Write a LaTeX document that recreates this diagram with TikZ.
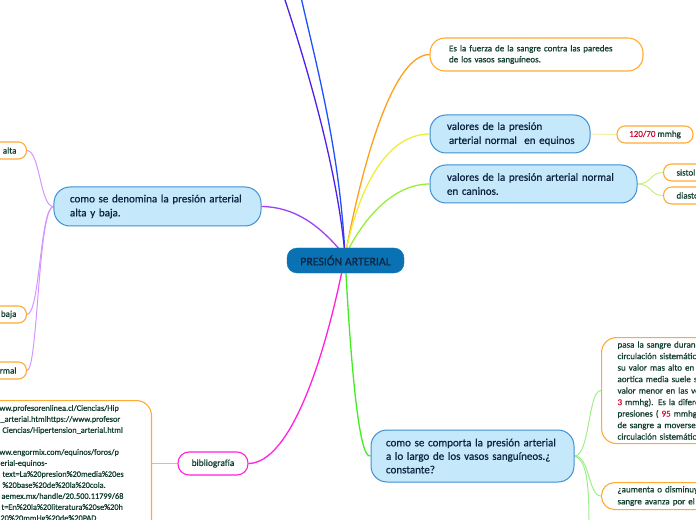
\documentclass[tikz,border=0pt]{standalone}
\usepackage{fontspec}
\setmainfont{Carlito}[FakeBold=0.7]
\usetikzlibrary{backgrounds}
\definecolor{orgB}{HTML}{FFAA33}
\definecolor{blueF}{HTML}{C5E8FA}
\definecolor{blueB}{HTML}{3F8FD5}
\definecolor{cenF}{HTML}{0A72B2}
\definecolor{navy}{HTML}{0E2442}
\definecolor{dgreen}{HTML}{123F30}
\definecolor{redn}{HTML}{D0103A}
\definecolor{cOrange}{HTML}{FF9F1C}
\definecolor{cYellow}{HTML}{EEEE3A}
\definecolor{cLime}{HTML}{99EE33}
\definecolor{cPurple}{HTML}{A040F0}
\definecolor{cMagenta}{HTML}{FF20E0}
\definecolor{cGreen}{HTML}{40EE20}
\definecolor{cBlue}{HTML}{2050FF}
\definecolor{cIndigo}{HTML}{5020E8}
\definecolor{lYellow}{HTML}{F0F0A0}
\definecolor{lLime}{HTML}{C8F080}
\definecolor{lPurple}{HTML}{D495FF}
\definecolor{lMagenta}{HTML}{F5A0F0}
\definecolor{lGreen}{HTML}{9CF08A}
\tikzset{
  smallbox/.style={draw=orgB, line width=1.1bp, fill=white, rounded corners=8bp,
    inner ysep=0bp, text=dgreen, font=\fontsize{9bp}{11bp}\selectfont},
  bluebox/.style={draw=blueB, line width=1bp, fill=blueF, rounded corners=16bp,
    inner ysep=0bp, text=navy, font=\fontsize{11bp}{14bp}\selectfont, align=left},
  mainline/.style={line width=1.3bp},
  childline/.style={line width=1bp}
}
\begin{document}
\begin{tikzpicture}[x=1bp,y=-1bp]
\useasboundingbox (0,0) rectangle (696,520);

% central node
\node[draw=cenF, fill=cenF, rounded corners=10bp, minimum width=117bp, minimum height=25bp,
  text=navy, font=\fontsize{11.8bp}{13bp}\selectfont] (cen) at (345.5,260.5) {PRESIÓN ARTERIAL};
\coordinate (C) at (345,256);

% right side
\node[smallbox, rounded corners=15bp, minimum height=33bp, inner xsep=19bp, text width=175bp, align=left]
  (es) at (536.5,54.5) {Es la fuerza de la sangre contra las paredes\\de los vasos sanguíneos.};
\node[bluebox, minimum height=38bp, inner xsep=17bp, text width=126bp]
  (eq) at (510,134) {valores de la presión\\\mbox{\hspace*{2bp}arterial normal\ \ en equinos}};
\node[smallbox, minimum width=76bp, minimum height=17bp, inner xsep=2bp]
  (v120) at (655,134.5) {\textcolor{redn}{120/70} mmhg};
\node[bluebox, minimum height=38bp, inner xsep=17bp, text width=173bp]
  (can) at (533.5,184) {\mbox{valores de la presión arterial normal}\\en caninos.};
\node[smallbox, anchor=west, minimum height=17bp, inner xsep=13bp, text width=80bp, align=left]
  (sis) at (663,172.5) {sistol};
\node[smallbox, anchor=west, minimum height=17bp, inner xsep=13bp, text width=80bp, align=left]
  (dia) at (663,195.5) {diasto};

% left side
\node[bluebox, minimum height=39bp, inner xsep=16bp, text width=175bp]
  (den) at (157.5,206.5) {\mbox{como se denomina la presión arterial}\\alta y baja.};
\node[smallbox, anchor=east, minimum height=17bp, inner xsep=10bp, text width=60bp, align=right]
  (alta) at (27,150.5) {alta};
\node[smallbox, anchor=east, minimum height=17bp, inner xsep=10bp, text width=60bp, align=right]
  (baja) at (27,314.5) {baja};
\node[smallbox, anchor=east, minimum height=17bp, inner xsep=10bp, text width=60bp, align=right]
  (rmal) at (27,370.5) {rmal};

\node[smallbox, draw=cMagenta, rounded corners=11bp, minimum width=70bp, minimum height=23bp, inner xsep=2bp,
  font=\fontsize{9.4bp}{11bp}\selectfont]
  (bib) at (213,463.5) {bibliografía};
\node[smallbox, rounded corners=15bp, anchor=north east, inner xsep=17bp, inner ysep=4.5bp,
  text width=135bp, align=left, font=\fontsize{8.3bp}{11bp}\selectfont]
  (refs) at (152,400) {ww.profesorenlinea.cl/Ciencias/Hip\\
\hspace*{1bp}\_arterial.htmlhttps://www.profesor\\
\hspace*{3bp}Ciencias/Hipertension\_arterial.html\\
\mbox{}\\
ww.engormix.com/equinos/foros/p\\
\hspace*{1bp}erial-equinos-\\
\hspace*{3bp}text=La\%20presion\%20media\%20es\\
\hspace*{3bp}\%20base\%20de\%20la\%20cola.\\
\hspace*{2bp}aemex.mx/handle/20.500.11799/68\\
\hspace*{2bp}t=En\%20la\%20literatura\%20se\%20h\\
\hspace*{1bp}20\%20mmHg\%20de\%20PAD\\
\mbox{}};

% bottom right
\node[bluebox, minimum height=52bp, inner xsep=15bp, text width=173bp, font=\fontsize{11bp}{13.5bp}\selectfont]
  (comp) at (472.5,456) {\mbox{como se comporta la presión arterial}\\\mbox{a lo largo de los vasos sanguíneos.¿}\\constante?};
\node[smallbox, rounded corners=15bp, anchor=north west, minimum height=106bp, inner xsep=16bp,
  text width=150bp, align=left, font=\fontsize{9bp}{11.5bp}\selectfont]
  (pasa) at (601,337) {pasa la sangre duran\\circulación sistemátic\\su valor mas alto en l\\aortica media suele s\\valor menor en las ve\\\textcolor{redn}{3} mmhg). Es la difere\\presiones ( \textcolor{redn}{95} mmhg\\de sangre a moverse\\circulación sistemátic};
\node[smallbox, rounded corners=13bp, anchor=north west, minimum height=27bp, inner xsep=16bp,
  text width=150bp, align=left, font=\fontsize{9bp}{12bp}\selectfont]
  (aum) at (601,482) {¿aumenta o disminuy\\sangre avanza por el};

\coordinate (T1) at (301,-3);
\coordinate (T2) at (284,-3);
\coordinate (B1) at (589,523);

\begin{scope}[on background layer]
  \draw[mainline, cBlue] (C) .. controls (340,150) and (315,60) .. (T1);
  \draw[mainline, cIndigo] (C) .. controls (338,170) and (305,60) .. (T2);
  \draw[mainline, cOrange] (C) .. controls (365,150) and (395,55) .. (es.west);
  \draw[mainline, cYellow] (C) .. controls (360,180) and (390,134) .. (eq.west);
  \draw[mainline, cLime] (C) .. controls (365,215) and (395,184) .. (can.west);
  \draw[mainline, cPurple] (C) .. controls (320,225) and (295,207) .. (den.east);
  \draw[mainline, cMagenta] (C) .. controls (325,360) and (290,463) .. (bib.east);
  \draw[mainline, cGreen] (C) .. controls (350,350) and (358,460) .. (comp.west);

  \draw[childline, lYellow] (eq.east) -- (v120.west);
  \draw[childline, lLime] (can.east) .. controls (652,184) and (650,172.5) .. (sis.west);
  \draw[childline, lLime] (can.east) .. controls (652,184) and (650,195.5) .. (dia.west);
  \draw[childline, lPurple] (den.west) .. controls (40,207) and (40,150.5) .. (alta.east);
  \draw[childline, lPurple] (den.west) .. controls (40,207) and (40,314.5) .. (baja.east);
  \draw[childline, lPurple] (den.west) .. controls (38,207) and (38,370.5) .. (rmal.east);
  \draw[childline, lMagenta] (bib.west) -- (refs.east |- bib.west);
  \draw[childline, lGreen] (comp.east) .. controls (590,456) and (588,390) .. (pasa.west);
  \draw[childline, lGreen] (comp.east) .. controls (590,456) and (588,495.5) .. (aum.west);
  \draw[childline, lGreen] (comp.east) .. controls (586,460) and (589,480) .. (B1);
\end{scope}
\end{tikzpicture}
\end{document}
